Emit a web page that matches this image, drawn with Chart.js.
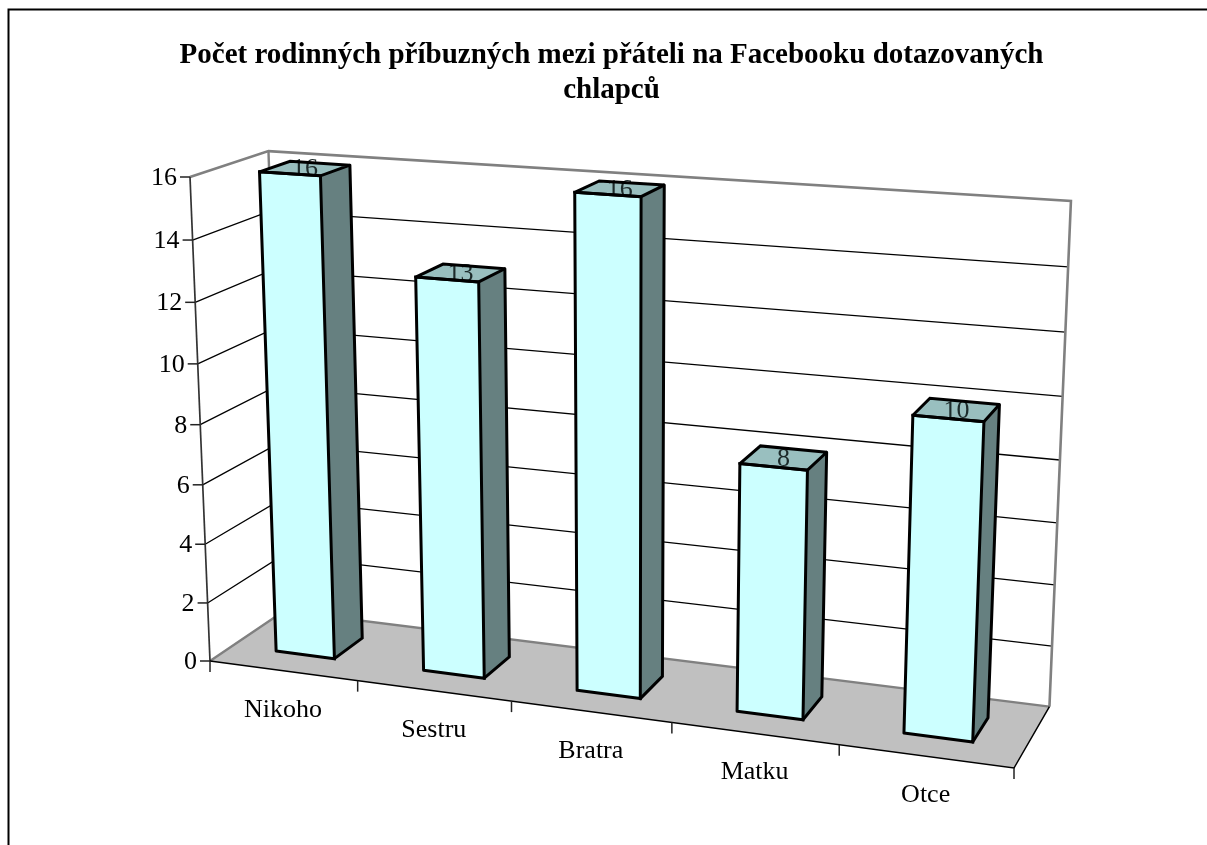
<!DOCTYPE html>
<html lang="cs">
<head>
<meta charset="utf-8">
<title>Počet rodinných příbuzných</title>
<script src="https://cdn.jsdelivr.net/npm/chart.js@4"></script>
<style>
  html, body { margin: 0; background: #fff; overflow: hidden; }
  canvas { display: block; }
</style>
</head>
<body>
<canvas id="graf" width="1207" height="845"></canvas>
<script>
const categories = ['Nikoho', 'Sestru', 'Bratra', 'Matku', 'Otce'];
const values = [16, 13, 16, 8, 10];
const titleLines = ['Počet rodinných příbuzných mezi přáteli na Facebooku dotazovaných', 'chlapců'];

// the 3D box of the plot: where its corners land on the page, plus the perspective weights
const box = { o: [210, 661], u: [1014, 768], v: [190, 177], w: [284, 611] };
const weight = { u: 0.90, v: 0.954, w: 1.055 };
const depthFront = 0.3, depthBack = 0.7;
const serif = '"Liberation Serif", "Times New Roman", serif';

function project(u, v, w) {
    const out = [0, 1].map(k =>
        box.o[k]
        + u * (weight.u * box.u[k] - box.o[k])
        + v * (weight.v * box.v[k] - box.o[k])
        + w * (weight.w * box.w[k] - box.o[k]));
    const d = 1 + u * (weight.u - 1) + v * (weight.v - 1) + w * (weight.w - 1);
    return [out[0] / d, out[1] / d];
}

function poly(ctx, pts, fill, stroke, width) {
    ctx.beginPath();
    pts.forEach((p, i) => i ? ctx.lineTo(p[0], p[1]) : ctx.moveTo(p[0], p[1]));
    if (fill) {
        ctx.closePath();
        ctx.fillStyle = fill;
        ctx.fill();
    }
    if (stroke) {
        ctx.strokeStyle = stroke;
        ctx.lineWidth = width;
        ctx.stroke();
    }
}

const box3d = {
    id: 'box3d',
    afterDatasetsDraw(chart) {
        const ctx = chart.ctx;
        const area = chart.chartArea;
        const yScale = chart.scales.y;
        const toU = px => (px - area.left) / area.width;
        const toV = py => (area.bottom - py) / area.height;

        ctx.save();
        ctx.lineJoin = 'miter';
        ctx.miterLimit = 2;
        ctx.lineCap = 'square';

        // outer frame, runs off the right and bottom of the page
        poly(ctx, [[8.5, 845], [8.5, 9.5], [1207, 9.5]], null, '#000', 2);
        ctx.lineCap = 'butt';

        // floor
        poly(ctx, [project(0, 0, 0), project(1, 0, 0), project(1, 0, 1), project(0, 0, 1)], '#c0c0c0');

        // gridlines
        yScale.ticks.forEach(t => {
            const v = toV(yScale.getPixelForValue(t.value));
            if (v > 0.001 && v < 0.999) {
                poly(ctx, [project(0, v, 0), project(0, v, 1), project(1, v, 1)], null, '#000', 1.3);
            }
        });

        // wall outlines
        poly(ctx, [project(0, 0, 0), project(0, 0, 1), project(1, 0, 1)], null, '#808080', 2.4);
        poly(ctx, [project(0, 1, 0), project(0, 1, 1), project(1, 1, 1), project(1, 0, 1)], null, '#808080', 2.6);
        poly(ctx, [project(0, 1, 1), project(0, 0, 1)], null, '#808080', 2.4);
        poly(ctx, [project(0, 0, 0), project(0, 1, 0)], null, '#333', 1.7);
        poly(ctx, [project(0, 0, 0), project(1, 0, 0), project(1, 0, 1)], null, '#000', 1.5);

        // ticks and value labels
        ctx.font = '26px ' + serif;
        ctx.fillStyle = '#000';
        ctx.textAlign = 'right';
        ctx.textBaseline = 'middle';
        yScale.ticks.forEach(t => {
            const p = project(0, toV(yScale.getPixelForValue(t.value)), 0);
            poly(ctx, [p, [p[0] - 10, p[1]]], null, '#222', 1.5);
            ctx.fillStyle = '#000';
            ctx.fillText(t.label, p[0] - 13, p[1] + 1);
        });

        // category ticks and labels
        for (let i = 0; i <= categories.length; i++) {
            const p = project(i / categories.length, 0, 0);
            poly(ctx, [p, [p[0], p[1] + 11]], null, '#222', 1.5);
        }
        ctx.textAlign = 'center';
        categories.forEach((name, i) => {
            const p = project(toU(chart.scales.x.getPixelForValue(i)), 0, 0);
            ctx.fillStyle = '#000';
            ctx.fillText(name, p[0], p[1] + 39);
        });

        // bars
        chart.getDatasetMeta(0).data.forEach((bar, i) => {
            const u0 = toU(bar.x - bar.width / 2);
            const u1 = toU(bar.x + bar.width / 2);
            const top = toV(bar.y);
            const a = project(u0, 0, depthFront), b = project(u1, 0, depthFront);
            const c = project(u1, top, depthFront), d = project(u0, top, depthFront);
            const e = project(u1, 0, depthBack), f = project(u1, top, depthBack);
            const g = project(u0, top, depthBack);
            const mid = project((u0 + u1) / 2, top, (depthFront + depthBack) / 2);

            poly(ctx, [d, c, f, g], '#99bfbf');
            ctx.fillStyle = '#1c2a2a';
            ctx.fillText(values[i], mid[0], mid[1] + 1);
            poly(ctx, [a, b, c, d], '#ccffff');
            poly(ctx, [b, e, f, c], '#668080');

            ctx.lineCap = 'round';
            poly(ctx, [d, c, f, g, d], null, '#000', 3);
            poly(ctx, [a, b, c, d, a], null, '#000', 3);
            poly(ctx, [b, e, f], null, '#000', 3);
            ctx.lineCap = 'butt';
        });

        ctx.restore();
    }
};

new Chart(document.querySelector('#graf'), {
    type: 'bar',
    data: {
        labels: categories,
        datasets: [{
            data: values,
            backgroundColor: 'transparent',
            borderWidth: 0,
            barPercentage: 0.4,
            categoryPercentage: 1
        }]
    },
    options: {
        responsive: false,
        animation: false,
        layout: { padding: { left: 16 } },
        plugins: {
            legend: { display: false },
            tooltip: { enabled: false },
            title: {
                display: true,
                text: titleLines,
                color: '#000',
                padding: { top: 38, bottom: 10 },
                font: { family: serif, size: 29, weight: 'bold', lineHeight: 1.21 }
            }
        },
        scales: {
            x: { display: false },
            y: { display: false, min: 0, max: 16, ticks: { stepSize: 2 } }
        }
    },
    plugins: [box3d]
});
</script>
</body>
</html>
